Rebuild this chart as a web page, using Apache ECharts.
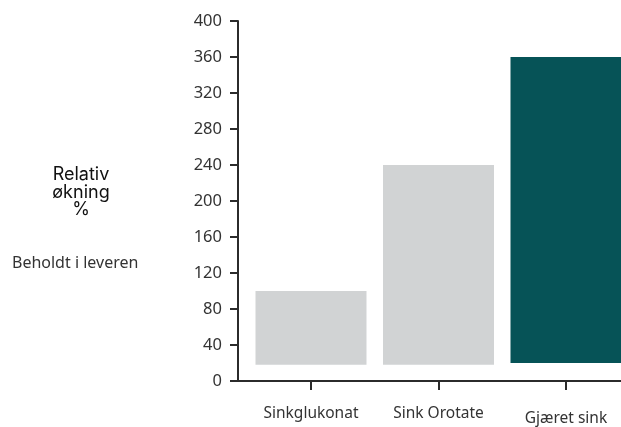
<!DOCTYPE html>
<html>
<head>
<meta charset="utf-8">
<script src="https://cdn.jsdelivr.net/npm/echarts@6/dist/echarts.min.js"></script>
<style>
  html, body { margin: 0; padding: 0; background: #fff; }
  #chart { width: 621px; height: 427px; }
</style>
</head>
<body>
<div id="chart"></div>
<script>
// Zinc retained in the liver, relative increase in percent
const categories = ['Sinkglukonat', 'Sink Orotate', 'Gjæret sink'];
const barBase = [18, 18, 20];      // where each bar starts
const barTop = [100, 240, 360];    // where each bar ends
const barColors = ['#d1d3d4', '#d1d3d4', '#065357'];
const yTicks = { min: 0, max: 400, step: 40 };

const positions = categories.map((_, i) => i);

const chart = echarts.init(document.getElementById('chart'), null, { renderer: 'canvas' });

const axisColor = '#2b2b2b';
const labelFont = 'Noto Sans';
const BAR_WIDTH = 111;

chart.setOption({
  animation: false,
  backgroundColor: '#ffffff',
  textStyle: { fontFamily: labelFont },
  grid: { left: 238, right: 0, top: 21, bottom: 43, containLabel: false },
  graphic: [
    {
      type: 'text',
      x: 81, y: 166,
      style: {
        text: 'Relativ\nøkning\n%',
        align: 'center',
        verticalAlign: 'top',
        fontFamily: 'Inter',
        fontSize: 18,
        lineHeight: 17.5,
        fill: '#111111'
      }
    },
    {
      type: 'text',
      x: 12, y: 255,
      style: {
        text: 'Beholdt i leveren',
        verticalAlign: 'top',
        fontFamily: labelFont,
        fontSize: 16,
        fill: '#333333'
      }
    }
  ],
  xAxis: {
    type: 'value',
    min: -0.5725,
    max: 2.4314,
    splitLine: { show: false },
    axisLine: { show: true, onZero: false, lineStyle: { color: axisColor, width: 2 } },
    axisTick: { show: true, length: 9, customValues: positions, lineStyle: { color: axisColor, width: 2 } },
    axisLabel: {
      show: true,
      customValues: positions,
      margin: 25,
      fontSize: 15.5,
      color: '#333333',
      formatter: function (v) {
        const i = Math.round(v);
        return i === 2 ? '{low|' + categories[i] + '}' : categories[i];
      },
      rich: {
        low: { fontSize: 15.5, color: '#333333', padding: [5, 0, 0, 0] }
      }
    }
  },
  yAxis: {
    type: 'value',
    min: yTicks.min,
    max: yTicks.max,
    interval: yTicks.step,
    splitLine: { show: false },
    axisLine: { show: true, onZero: false, lineStyle: { color: axisColor, width: 2 } },
    axisTick: { show: true, length: 8, lineStyle: { color: axisColor, width: 2 } },
    axisLabel: { margin: 16, fontSize: 16.5, color: '#333333' }
  },
  series: [
    {
      type: 'custom',
      encode: { x: 0, y: [1, 2] },
      data: positions.map(i => [i, barBase[i], barTop[i]]),
      renderItem: function (params, api) {
        const bottom = api.coord([api.value(0), api.value(1)]);
        const top = api.coord([api.value(0), api.value(2)]);
        return {
          type: 'rect',
          shape: {
            x: bottom[0] - BAR_WIDTH / 2,
            y: top[1],
            width: BAR_WIDTH,
            height: bottom[1] - top[1]
          },
          style: { fill: barColors[params.dataIndex] }
        };
      }
    }
  ]
});
</script>
</body>
</html>
